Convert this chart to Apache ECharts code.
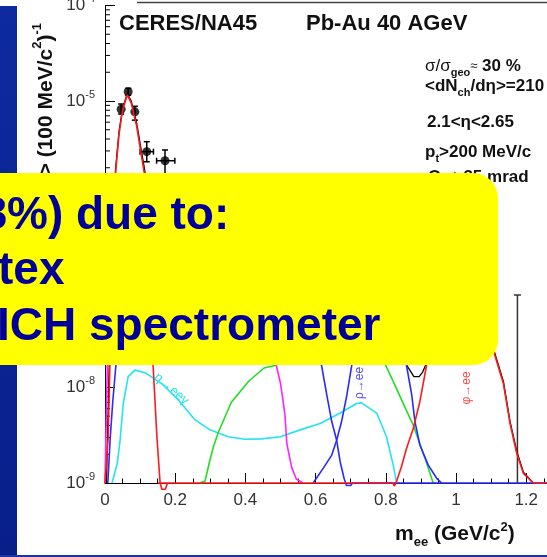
<!DOCTYPE html>
<html>
<head>
<meta charset="utf-8">
<script src="https://cdn.jsdelivr.net/npm/echarts@6/dist/echarts.min.js"></script>
<style>
  html, body { margin: 0; padding: 0; background: #ffffff; }
  #chart { width: 547px; height: 557px; }
</style>
</head>
<body>
<div id="chart"></div>
<script>
// Dielectron invariant-mass spectrum, CERES/NA45 Pb-Au 40 AGeV, with hadron-decay cocktail
const FONT = '"Liberation Sans", Arial, Helvetica, sans-serif';

// axis ranges
const massRange = [0, 1.4];
const yieldRange = [1e-9, 1e-4];

// measured pairs: mass (GeV/c^2), yield, vertical and horizontal error ranges
const dataMass      = [0.046, 0.066, 0.085, 0.119, 0.171];
const dataYield     = [8.2e-6, 1.25e-5, 7.7e-6, 2.95e-6, 2.37e-6];
const dataYieldLow  = [7.3e-6, 1.15e-5, 6.3e-6, 2.31e-6, 1.6e-6];
const dataYieldHigh = [9.3e-6, 1.36e-5, 8.8e-6, 3.75e-6, 3.07e-6];
const dataMassLow   = [0.046, 0.066, 0.085, 0.100, 0.147];
const dataMassHigh  = [0.046, 0.066, 0.085, 0.138, 0.199];

// high-mass bin shown only by its upper error
const limitMass = [1.175];
const limitHigh = [9.3e-8];

// cocktail sum
const cocktailSum = [
  [0.004, 1e-9], [0.008, 4e-9], [0.014, 3.5e-8], [0.02, 2.2e-7], [0.03, 1.9e-6],
  [0.04, 4.8e-6], [0.05, 8.3e-6], [0.0635, 1.2e-5], [0.075, 9.9e-6], [0.09, 5.9e-6],
  [0.114, 1.8e-6], [0.13, 4.5e-7], [0.15, 2.2e-7], [0.2, 1.4e-7], [0.3, 1.0e-7],
  [0.4, 7e-8], [0.5, 6e-8], [0.6, 6.5e-8], [0.7, 1.2e-7], [0.77, 3.3e-7], [0.8, 2.4e-7],
  [0.83, 7e-8], [0.86, 1.7e-8], [0.872, 1.45e-8], [0.88, 1.3e-8], [0.895, 1.3e-8],
  [0.905, 1.45e-8], [0.913, 1.7e-8], [0.95, 5.2e-8], [0.99, 1.55e-7], [1.02, 2.3e-7],
  [1.05, 1.55e-7], [1.08, 6.3e-8], [1.106, 2.6e-8], [1.135, 1.16e-8], [1.154, 4.4e-9],
  [1.173, 2.15e-9], [1.192, 1.3e-9], [1.22, 1e-9]
];

// eta -> ee gamma
const etaDalitz = [
  [0.02, 1e-9], [0.024, 1e-9], [0.035, 1.6e-9], [0.043, 2.8e-9], [0.052, 6.8e-9],
  [0.066, 1.3e-8], [0.085, 1.52e-8], [0.114, 1.43e-8], [0.161, 1.1e-8], [0.209, 7.4e-9],
  [0.256, 4.6e-9], [0.299, 3.6e-9], [0.351, 3.05e-9], [0.399, 2.87e-9], [0.446, 2.9e-9],
  [0.5, 3.05e-9], [0.556, 3.6e-9], [0.613, 4.2e-9], [0.67, 5.4e-9], [0.717, 6.8e-9],
  [0.731, 6.9e-9], [0.774, 5.4e-9], [0.802, 3.05e-9], [0.821, 1.55e-9], [0.831, 1e-9]
];

// green cocktail component
const greenComponent = [
  [0.27, 1e-9], [0.285, 1.05e-9], [0.299, 1.74e-9], [0.309, 2.4e-9], [0.323, 3.4e-9],
  [0.36, 7e-9], [0.41, 1.17e-8], [0.453, 1.6e-8], [0.484, 1.7e-8], [0.56, 2.6e-8],
  [0.64, 3.4e-8], [0.72, 3e-8], [0.8, 1.7e-8], [0.826, 1.06e-8], [0.852, 6.5e-9],
  [0.878, 4.05e-9], [0.912, 1.8e-9], [0.935, 1e-9]
];

// magenta cocktail component
const magentaComponent = [
  [0, 1e-9], [0.004, 1e-9], [0.007, 2e-8], [0.012, 1.5e-7], [0.03, 6e-7], [0.06, 8e-7],
  [0.1, 7e-7], [0.2, 4e-7], [0.3, 2e-7], [0.4, 8e-8], [0.46, 3.5e-8], [0.489, 1.65e-8],
  [0.5, 1.1e-8], [0.508, 7e-9], [0.513, 5e-9], [0.518, 2.6e-9], [0.532, 1.45e-9],
  [0.545, 1.1e-9], [0.564, 1e-9]
];

// blue component ending near 0.7 GeV/c^2
const blueLowComponent = [
  [0.008, 1e-9], [0.015, 3e-9], [0.022, 7e-9], [0.031, 1.7e-8], [0.05, 8e-8], [0.1, 2e-7],
  [0.2, 2.2e-7], [0.3, 1.8e-7], [0.4, 1.2e-7], [0.5, 6e-8], [0.58, 2.8e-8], [0.617, 1.7e-8],
  [0.632, 8.3e-9], [0.646, 4.4e-9], [0.66, 2.8e-9], [0.67, 1.67e-9], [0.681, 1.12e-9],
  [0.688, 9.4e-10], [0.7, 9.4e-10], [0.705, 1e-9], [1.4, 1e-9]
];

// rho -> ee
const rhoToEE = [
  [0.593, 1e-9], [0.622, 1.43e-9], [0.646, 1.96e-9], [0.66, 2.8e-9], [0.674, 4.4e-9],
  [0.689, 8.3e-9], [0.703, 1.7e-8], [0.72, 4e-8], [0.745, 1.1e-7], [0.77, 2.4e-7],
  [0.782, 2.7e-7], [0.8, 1.8e-7], [0.83, 5.5e-8], [0.859, 1.7e-8], [0.874, 8.3e-9],
  [0.883, 4.4e-9], [0.897, 2.5e-9], [0.921, 1.54e-9], [0.945, 1.12e-9], [0.959, 1e-9]
];

// pi0 -> ee gamma
const pi0Dalitz = [
  [0, 1e-9], [0.005, 1e-9], [0.009, 3e-9], [0.014, 1.7e-8], [0.02, 1.5e-7], [0.03, 1.76e-6],
  [0.04, 4.5e-6], [0.05, 8e-6], [0.0635, 1.16e-5], [0.075, 9.5e-6], [0.09, 5.5e-6],
  [0.112, 1.76e-6], [0.125, 3e-7], [0.137, 1.7e-8], [0.148, 3e-9], [0.157, 1e-9],
  [0.162, 8.6e-10], [0.172, 8.6e-10], [0.178, 1e-9]
];

// phi -> ee
const phiToEE = [
  [0.15, 1e-9], [0.82, 1e-9], [0.824, 9.3e-10], [0.829, 1e-9], [0.845, 1.5e-9],
  [0.859, 2.3e-9], [0.878, 3.7e-9], [0.897, 7.1e-9], [0.916, 1.7e-8], [0.95, 5e-8],
  [0.99, 1.5e-7], [1.02, 2.2e-7], [1.05, 1.5e-7], [1.08, 6e-8], [1.106, 2.47e-8],
  [1.135, 1.1e-8], [1.154, 4.2e-9], [1.173, 2.05e-9], [1.192, 1.26e-9], [1.22, 1e-9],
  [1.4, 1e-9]
];

// log minor tick positions (2..9 per decade)
const minorYieldTicks = [];
for (let e = -9; e < -4; e++) {
  for (let k = 2; k <= 9; k++) minorYieldTicks.push([0, k * Math.pow(10, e)]);
}

const errorRows = dataMass.map((m, i) => [m, dataYield[i], dataYieldLow[i], dataYieldHigh[i], dataMassLow[i], dataMassHigh[i]]);
const limitRows = limitMass.map((m, i) => [m, yieldRange[0], limitHigh[i]]);

function curve(name, data, color, width) {
  return {
    name, type: 'line', data, showSymbol: false, symbol: 'none', clip: false, silent: true,
    lineStyle: { color, width: width || 1.6 }
  };
}

const chart = echarts.init(document.getElementById('chart'), null, { renderer: 'canvas' });

const sub = (size, lh) => ({ fontFamily: FONT, fontWeight: 'bold', fontSize: size, lineHeight: lh, verticalAlign: 'bottom', fill: '#111' });
const sup = (size, lh) => ({ fontFamily: FONT, fontWeight: 'bold', fontSize: size, lineHeight: lh, verticalAlign: 'top', fill: '#111' });
const main = (size, lh, weight) => ({ fontFamily: FONT, fontWeight: weight || 'bold', fontSize: size, lineHeight: lh, fill: '#111' });

const infoRich = {
  b: main(17, 24), r: main(17, 24, 'normal'), x: main(13, 24, 'normal'), s: sub(11, 12)
};

chart.setOption({
  animation: false,
  backgroundColor: '#ffffff',
  grid: { left: 105, top: 5.5, width: 491.4, height: 477.5, containLabel: false, outerBoundsMode: 'none' },
  xAxis: {
    type: 'value', min: massRange[0], max: massRange[1], interval: 0.2,
    axisLine: { show: true, onZero: false, lineStyle: { color: '#000', width: 1 } },
    axisTick: { show: true, inside: true, length: 10, lineStyle: { color: '#000', width: 1 } },
    minorTick: { show: true, splitNumber: 4, length: 4.5, lineStyle: { color: '#000', width: 1 } },
    splitLine: { show: false },
    axisLabel: {
      interval: 0, margin: 9, color: '#333', fontSize: 17, fontFamily: FONT,
      formatter: v => String(Math.round(v * 10) / 10)
    }
  },
  yAxis: {
    type: 'log', logBase: 10, min: yieldRange[0], max: yieldRange[1], splitNumber: 5,
    axisLine: { show: true, lineStyle: { color: '#000', width: 1 } },
    axisTick: { show: true, inside: true, length: 10, lineStyle: { color: '#000', width: 1 } },
    minorTick: { show: false },
    splitLine: { show: false },
    axisLabel: {
      margin: 10,
      formatter: v => '{b|10}{s|' + Math.round(Math.log10(v)) + '}',
      rich: {
        b: { fontSize: 17, color: '#333', fontFamily: FONT, lineHeight: 24 },
        s: { fontSize: 11, color: '#333', fontFamily: FONT, lineHeight: 4, verticalAlign: 'top' }
      }
    }
  },
  series: [
    curve('sum', cocktailSum, '#000000', 1.3),
    curve('η→eeγ', etaDalitz, '#22e4f0'),
    curve('green', greenComponent, '#22dd22'),
    curve('magenta', magentaComponent, '#ff22ff'),
    curve('blue', blueLowComponent, '#2a2aff'),
    curve('ρ→ee', rhoToEE, '#2a2aff'),
    curve('π0', pi0Dalitz, '#ff1a1a'),
    curve('φ→ee', phiToEE, '#ff1a1a'),
    {
      name: 'minor ticks', type: 'custom', silent: true, clip: false,
      data: minorYieldTicks, encode: { x: 0, y: 1 },
      renderItem: (params, api) => {
        const p = api.coord([api.value(0), api.value(1)]);
        return { type: 'line', shape: { x1: p[0], y1: p[1], x2: p[0] + 5, y2: p[1] }, style: { stroke: '#000', lineWidth: 1 } };
      }
    },
    {
      name: 'upper error', type: 'custom', silent: true, clip: false,
      data: limitRows, encode: { x: 0, y: 1 },
      renderItem: (params, api) => {
        const lo = api.coord([api.value(0), api.value(1)]);
        const hi = api.coord([api.value(0), api.value(2)]);
        const st = { stroke: '#333', lineWidth: 1.5 };
        return { type: 'group', children: [
          { type: 'line', shape: { x1: lo[0], y1: lo[1], x2: hi[0], y2: hi[1] }, style: st },
          { type: 'line', shape: { x1: hi[0] - 3.5, y1: hi[1], x2: hi[0] + 3.5, y2: hi[1] }, style: st }
        ] };
      }
    },
    {
      name: 'errors', type: 'custom', silent: true, clip: false,
      data: errorRows, encode: { x: 0, y: 1 },
      renderItem: (params, api) => {
        const c = api.coord([api.value(0), api.value(1)]);
        const lo = api.coord([api.value(0), api.value(2)]);
        const hi = api.coord([api.value(0), api.value(3)]);
        const l = api.coord([api.value(4), api.value(1)]);
        const r = api.coord([api.value(5), api.value(1)]);
        const st = { stroke: '#000', lineWidth: 1.5 };
        const kids = [
          { type: 'line', shape: { x1: c[0], y1: lo[1], x2: c[0], y2: hi[1] }, style: st },
          { type: 'line', shape: { x1: c[0] - 3, y1: hi[1], x2: c[0] + 3, y2: hi[1] }, style: st },
          { type: 'line', shape: { x1: c[0] - 3, y1: lo[1], x2: c[0] + 3, y2: lo[1] }, style: st }
        ];
        if (api.value(5) > api.value(4)) {
          kids.push({ type: 'line', shape: { x1: l[0], y1: c[1], x2: r[0], y2: c[1] }, style: st });
          kids.push({ type: 'line', shape: { x1: l[0], y1: c[1] - 3, x2: l[0], y2: c[1] + 3 }, style: st });
          kids.push({ type: 'line', shape: { x1: r[0], y1: c[1] - 3, x2: r[0], y2: c[1] + 3 }, style: st });
        }
        return { type: 'group', children: kids };
      }
    },
    {
      name: 'data', type: 'scatter', silent: true, clip: false,
      data: dataMass.map((m, i) => [m, dataYield[i]]),
      symbol: 'circle', symbolSize: 9, itemStyle: { color: '#000' }
    }
  ],
  graphic: [
    // slide frame pieces
    { type: 'rect', z: 1, silent: true, shape: { x: 0, y: 6, width: 17, height: 551 },
      style: { fill: new echarts.graphic.LinearGradient(0, 0, 0, 1, [
        { offset: 0, color: '#0d2a9e' }, { offset: 1, color: '#081f8a' }]) } },
    { type: 'rect', z: 1, silent: true, shape: { x: 0, y: 555, width: 547, height: 2 }, style: { fill: '#1a34a0' } },
    { type: 'line', z: 1, silent: true, shape: { x1: 137, y1: 2.5, x2: 547, y2: 2.5 }, style: { stroke: '#444', lineWidth: 1.5 } },

    // headers
    { type: 'text', z: 10, silent: true, x: 119, y: 24.3,
      style: { text: 'CERES/NA45', fontFamily: FONT, fontWeight: 'bold', fontSize: 22, fill: '#111', align: 'left', verticalAlign: 'middle' } },
    { type: 'text', z: 10, silent: true, x: 306, y: 24.3,
      style: { text: 'Pb-Au 40 AGeV', fontFamily: FONT, fontWeight: 'bold', fontSize: 22, fill: '#111', align: 'left', verticalAlign: 'middle' } },

    // event selection
    { type: 'text', z: 10, silent: true, x: 425, y: 66,
      style: { text: '{r|σ/σ}{s|geo}{x|≈}{b| 30 %}', rich: infoRich, align: 'left', verticalAlign: 'middle' } },
    { type: 'text', z: 10, silent: true, x: 425, y: 86,
      style: { text: '{b|<dN}{s|ch}{b|/dη>=210}', rich: infoRich, align: 'left', verticalAlign: 'middle' } },
    { type: 'text', z: 10, silent: true, x: 427, y: 122,
      style: { text: '{b|2.1<η<2.65}', rich: infoRich, align: 'left', verticalAlign: 'middle' } },
    { type: 'text', z: 10, silent: true, x: 425, y: 152,
      style: { text: '{b|p}{s|t}{b|>200 MeV/c}', rich: infoRich, align: 'left', verticalAlign: 'middle' } },
    { type: 'text', z: 10, silent: true, x: 428, y: 177,
      style: { text: '{b|Θ}{s|ee}{b|>35 mrad}', rich: infoRich, align: 'left', verticalAlign: 'middle' } },

    // axis titles
    { type: 'text', z: 10, silent: true, x: 46.6, y: 23, rotation: Math.PI / 2,
      style: { text: '{b|<dN}{s|ch}{b|/dη> (100 MeV/c}{p|2}{b|)}{p|-1}', align: 'right', verticalAlign: 'middle',
        rich: { b: main(21, 32), s: sub(13, 10), p: sup(13, 4) } } },
    { type: 'text', z: 10, silent: true, x: 395, y: 534.6,
      style: { text: '{b|m}{s|ee}{b| (GeV/c}{p|2}{b|)}', align: 'left', verticalAlign: 'middle',
        rich: { b: main(21, 28), s: sub(13, 8), p: sup(13, 24) } } },

    // curve labels
    { type: 'text', z: 10, silent: true, x: 171.5, y: 389, rotation: -0.71,
      style: { text: 'η→eeγ', fontFamily: FONT, fontSize: 13, fill: '#22e4f0', align: 'center', verticalAlign: 'middle' } },
    { type: 'text', z: 10, silent: true, x: 360, y: 383, rotation: Math.PI / 2,
      style: { text: 'ρ→ee', fontFamily: FONT, fontSize: 12, fill: '#4a4aff', align: 'center', verticalAlign: 'middle' } },
    { type: 'text', z: 10, silent: true, x: 466.5, y: 388, rotation: Math.PI / 2,
      style: { text: 'φ→ee', fontFamily: FONT, fontSize: 12, fill: '#ff4a4a', align: 'center', verticalAlign: 'middle' } },

    // callout box
    { type: 'rect', z: 50, silent: true, shape: { x: -40, y: 173, width: 538, height: 192, r: 25 }, style: { fill: '#ffff00' } },
    { type: 'text', z: 51, silent: true, x: -18.6, y: 216,
      style: { text: '8%) due to:', fontFamily: FONT, fontWeight: 'bold', fontSize: 46, fill: '#000099', align: 'left', verticalAlign: 'middle' } },
    { type: 'text', z: 51, silent: true, x: -2, y: 271,
      style: { text: 'tex', fontFamily: FONT, fontWeight: 'bold', fontSize: 46, fill: '#000099', align: 'left', verticalAlign: 'middle' } },
    { type: 'text', z: 51, silent: true, x: -3, y: 327,
      style: { text: 'ICH spectrometer', fontFamily: FONT, fontWeight: 'bold', fontSize: 46, fill: '#000099', align: 'left', verticalAlign: 'middle' } }
  ]
});
</script>
</body>
</html>
